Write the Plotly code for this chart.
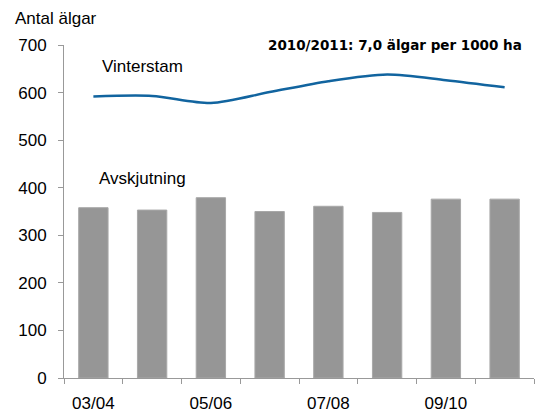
import plotly.graph_objects as go

seasons = ["03/04", "04/05", "05/06", "06/07", "07/08", "08/09", "09/10", "10/11"]
avskjutning = [358, 353, 379, 350, 361, 348, 376, 376]
vinterstam = [592, 593, 578, 601, 624, 638, 626, 611]
y_ticks = [0, 100, 200, 300, 400, 500, 600, 700]

idx = list(range(len(seasons)))

fig = go.Figure()
fig.add_trace(go.Bar(
    x=idx, y=avskjutning, width=0.5,
    marker=dict(color="#969696", line=dict(color="#a8a8a8", width=1)),
    showlegend=False,
))
fig.add_trace(go.Scatter(
    x=idx, y=vinterstam, mode="lines",
    line=dict(color="#11649f", width=2.5, shape="spline", smoothing=0.8),
    showlegend=False,
))

font = "Liberation Sans, Arial, sans-serif"
fig.update_layout(
    width=542, height=416,
    margin=dict(l=64, r=8, t=45, b=38),
    paper_bgcolor="white", plot_bgcolor="white",
    font=dict(family=font, size=17, color="#000000"),
    xaxis=dict(
        range=[-0.5, len(seasons) - 0.5],
        tickvals=idx[::2], ticktext=seasons[::2],
        ticks="", showgrid=False, zeroline=False,
        showline=True, linecolor="#999999", linewidth=1,
        tickfont=dict(size=17), ticklabelstandoff=10, automargin=False,
        minor=dict(tickvals=[i - 0.5 for i in range(len(seasons) + 1)],
                   ticks="outside", ticklen=5, tickcolor="#999999", showgrid=False),
        fixedrange=True,
    ),
    yaxis=dict(
        range=[0, 700], tickvals=y_ticks,
        ticks="outside", ticklen=5, tickcolor="#999999",
        showgrid=False, zeroline=False,
        showline=True, linecolor="#999999", linewidth=1,
        tickfont=dict(size=17), ticklabelstandoff=8, automargin=False,
        fixedrange=True,
    ),
    annotations=[
        dict(text="Antal älgar", xref="paper", yref="paper", x=-0.108, y=1.045,
             xanchor="left", yanchor="bottom", showarrow=False,
             font=dict(size=17, family=font)),
        dict(text="<b>2010/2011: 7,0 älgar per 1000 ha</b>", xref="paper", yref="y",
             x=0.978, y=700, xanchor="right", yanchor="middle", showarrow=False,
             font=dict(size=13.5, family="DejaVu Sans, Verdana, sans-serif")),
        dict(text="Vinterstam", xref="x", yref="y", x=0.11, y=654,
             xanchor="left", yanchor="middle", showarrow=False,
             font=dict(size=17, family=font)),
        dict(text="Avskjutning", xref="x", yref="y", x=0.06, y=420,
             xanchor="left", yanchor="middle", showarrow=False,
             font=dict(size=17, family=font)),
    ],
)

fig.write_html("out.html", config={"displayModeBar": False},
               post_script="document.body.style.margin='0';")
